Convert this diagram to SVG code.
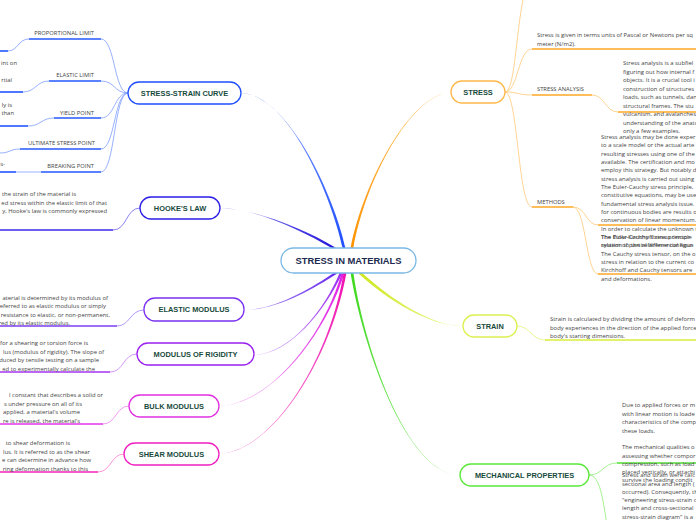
<svg xmlns="http://www.w3.org/2000/svg" width="696" height="520" viewBox="0 0 696 520">
<style>
.bg{fill:#ffffff}
.node rect{fill:#ffffff;stroke-width:1.3}
.nt{font-family:"Liberation Sans",Arial,sans-serif;font-weight:bold;font-size:7.4px;fill:#184a3c;text-anchor:middle}
.ct{font-family:"Liberation Sans",Arial,sans-serif;font-weight:bold;font-size:9.4px;fill:#1b2a4e;text-anchor:middle}
.d{font-family:"Open Sans","Liberation Sans",Arial,sans-serif;font-size:5.9px;fill:#444444}
.e{text-anchor:end}
.lb{font-family:"Open Sans","Liberation Sans",Arial,sans-serif;font-size:5.8px;fill:#444444;text-anchor:end}
.lbr{font-family:"Open Sans","Liberation Sans",Arial,sans-serif;font-size:5.8px;fill:#444444}
.thin{fill:none;stroke-width:0.8}
.ul{fill:none;stroke-width:1.6}
</style>
<defs>
  <linearGradient id="gSSC" gradientUnits="userSpaceOnUse" x1="344" y1="248" x2="241" y2="93"><stop offset="0" stop-color="#1f4fff"/><stop offset="1" stop-color="#86a2ff"/></linearGradient>
  <linearGradient id="gHK" gradientUnits="userSpaceOnUse" x1="334" y1="248" x2="220" y2="208"><stop offset="0" stop-color="#2418dc"/><stop offset="1" stop-color="#8a84f2"/></linearGradient>
  <linearGradient id="gST" gradientUnits="userSpaceOnUse" x1="352" y1="248" x2="451" y2="92"><stop offset="0" stop-color="#ff9200"/><stop offset="1" stop-color="#ffc66e"/></linearGradient>
  <linearGradient id="gEM" gradientUnits="userSpaceOnUse" x1="336" y1="273" x2="244" y2="310"><stop offset="0" stop-color="#6a2cf0"/><stop offset="1" stop-color="#ab8ef7"/></linearGradient>
  <linearGradient id="gMR" gradientUnits="userSpaceOnUse" x1="341" y1="273" x2="254" y2="355"><stop offset="0" stop-color="#9a30f0"/><stop offset="1" stop-color="#cd9ef7"/></linearGradient>
  <linearGradient id="gBM" gradientUnits="userSpaceOnUse" x1="343" y1="273" x2="219" y2="406"><stop offset="0" stop-color="#e020e6"/><stop offset="1" stop-color="#f294f4"/></linearGradient>
  <linearGradient id="gSM" gradientUnits="userSpaceOnUse" x1="345" y1="273" x2="219" y2="454"><stop offset="0" stop-color="#f010b0"/><stop offset="1" stop-color="#f890da"/></linearGradient>
  <linearGradient id="gSN" gradientUnits="userSpaceOnUse" x1="360" y1="273" x2="463" y2="326"><stop offset="0" stop-color="#cfe820"/><stop offset="1" stop-color="#e8f68c"/></linearGradient>
  <linearGradient id="gMP" gradientUnits="userSpaceOnUse" x1="352" y1="273" x2="460" y2="475"><stop offset="0" stop-color="#3cd81c"/><stop offset="1" stop-color="#94ef7e"/></linearGradient>
</defs>
<rect class="bg" x="0" y="0" width="696" height="520"/>

<g id="connectors">
  <path fill="url(#gSSC)" d="M342.6,248 C332.6,200 290,94.6 241,93 C290,95.4 335.4,200 345.4,248Z"/>
  <path fill="url(#gHK)" d="M332.6,248.5 C299,228.8 255,208.6 220,208 C255,209.4 301,227.2 335.4,247.5Z"/>
  <path fill="url(#gST)" d="M350.6,248 C364.3,180 410,94.6 451,92 C410,95.4 365.7,180 353.4,248Z"/>
  <path fill="url(#gEM)" d="M334.6,272.5 C309.3,289.5 275,309.6 244,310 C275,310.4 310.7,290.5 337.4,273.5Z"/>
  <path fill="url(#gMR)" d="M339.6,273 C324.3,310 290,353.6 254,355 C290,354.4 325.7,310 342.4,273Z"/>
  <path fill="url(#gBM)" d="M341.6,273 C324.3,335 270,404.6 219,406 C270,405.4 325.7,335 344.4,273Z"/>
  <path fill="url(#gSM)" d="M343.6,273 C329.3,360 272,451.6 219,454 C272,452.4 330.7,360 346.4,273Z"/>
  <path fill="url(#gSN)" d="M359,274 C389,301 430,326.4 463,326 C430,325.6 391,299 361,272Z"/>
  <path fill="url(#gMP)" d="M350.6,273 C361.3,340 405,475.4 460,475 C405,474.6 362.7,340 353.4,273Z"/>

  <g stroke="#7d9dff" class="thin">
    <path d="M128,93 C114,93 115,39 101,39"/>
    <path d="M128,93 C114,93 115,81 101,81"/>
    <path d="M128,93 C114,93 115,118 101,118"/>
    <path d="M128,93 C114,93 115,149 101,149"/>
    <path d="M128,93 C114,93 115,172 101,172"/>
    <path d="M29,39 C18,39 18,51 8,51"/>
    <path d="M49,81 C36,81 36,92 23,92"/>
    <path d="M54,118 C41,118 41,126 28,126"/>
    <path d="M20,149 C10,149 10,153 0,153"/>
    <path d="M41,172 L16,172"/>
  </g>
  <g stroke="#2457ff" class="ul">
    <path d="M29,39 H101"/>
    <path d="M49,81 H101"/>
    <path d="M54,118 H101"/>
    <path d="M20,149 H101"/>
    <path d="M41,172 H101"/>
    <path d="M0,51 H8"/>
    <path d="M0,92 H23"/>
    <path d="M0,126 H28"/>
    <path d="M0,172 H16"/>
  </g>

  <path class="thin" stroke="#6c62f0" d="M140,208 C126,208 127,230 113,230"/>
  <path class="ul" stroke="#3a2aee" d="M0,230 H113"/>
  <path class="thin" stroke="#a07cf5" d="M144,310 C130,310 130,326 117,326"/>
  <path class="ul" stroke="#7b3cf5" d="M0,326 H117"/>
  <path class="thin" stroke="#c47cf5" d="M137,354 C123,354 124,372 110,372"/>
  <path class="ul" stroke="#a535ef" d="M0,372 H110"/>
  <path class="thin" stroke="#ee80f0" d="M129,406 C116,406 116,424 103,424"/>
  <path class="ul" stroke="#e535ea" d="M0,424 H103"/>
  <path class="thin" stroke="#f77ad4" d="M124,454 C111,454 111,472 98,472"/>
  <path class="ul" stroke="#f520b8" d="M0,472 H98"/>

  <g stroke="#ffc878" class="thin">
    <path d="M505,92 C515,92 516,30 524,-5"/>
    <path d="M505,92 C518,92 518,49 532,49"/>
    <path d="M505,92 C518,92 518,95 532,95"/>
    <path d="M505,92 C518,92 518,207 532,207"/>
    <path d="M592,95 C605,95 605,112 618,112"/>
    <path d="M573,207 C586,207 586,225 598,225"/>
    <path d="M573,207 C586,207 586,274 598,274"/>
  </g>
  <g stroke="#ffa726" class="ul">
    <path d="M532,49 H696"/>
    <path d="M532,95 H592"/>
    <path d="M618,112 H696"/>
    <path d="M532,207 H573"/>
    <path d="M598,225 H696"/>
    <path d="M598,274 H696"/>
  </g>

  <path class="thin" stroke="#e4f27a" d="M517,326 C530,326 532,340 545,340"/>
  <path class="ul" stroke="#d8ef3a" d="M545,340 H696"/>

  <path class="thin" stroke="#8cec74" d="M589,475 C603,475 603,463 617,463"/>
  <path class="thin" stroke="#8cec74" d="M589,475 C600,475 603,500 607,525"/>
  <path class="ul" stroke="#4ee030" d="M617,463 H696"/>
</g>

<g id="center" class="node">
  <rect x="281" y="248" width="135" height="25" rx="12.5" stroke="#7ab8e6"/>
  <text class="ct" x="348.5" y="264">STRESS IN MATERIALS</text>
</g>

<g id="stress-strain-curve" class="node">
  <rect x="128" y="82" width="113" height="22" rx="11" stroke="#1f4fff"/>
  <text class="nt" x="184.5" y="95.6">STRESS-STRAIN CURVE</text>
</g>
<g id="hookes-law" class="node">
  <rect x="140" y="197" width="80" height="22" rx="11" stroke="#2a1ee6"/>
  <text class="nt" x="180" y="210.6">HOOKE'S LAW</text>
</g>
<g id="elastic-modulus" class="node">
  <rect x="144" y="298" width="100" height="23" rx="11" stroke="#7b30f0"/>
  <text class="nt" x="194" y="312.1">ELASTIC MODULUS</text>
</g>
<g id="modulus-of-rigidity" class="node">
  <rect x="137" y="343" width="117" height="22" rx="11" stroke="#9a20f0"/>
  <text class="nt" x="195.5" y="356.6">MODULUS OF RIGIDITY</text>
</g>
<g id="bulk-modulus" class="node">
  <rect x="129" y="395" width="90" height="22" rx="11" stroke="#e030e0"/>
  <text class="nt" x="174" y="408.6">BULK MODULUS</text>
</g>
<g id="shear-modulus" class="node">
  <rect x="124" y="443" width="95" height="22" rx="11" stroke="#f020c0"/>
  <text class="nt" x="171.5" y="456.6">SHEAR MODULUS</text>
</g>
<g id="stress" class="node">
  <rect x="451" y="81" width="54" height="22" rx="11" stroke="#ffb84a"/>
  <text class="nt" x="478" y="94.6">STRESS</text>
</g>
<g id="strain" class="node">
  <rect x="463" y="315" width="54" height="22" rx="11" stroke="#dcf050"/>
  <text class="nt" x="490" y="328.6">STRAIN</text>
</g>
<g id="mechanical-properties" class="node">
  <rect x="460" y="464" width="129" height="22" rx="11" stroke="#5ae83a"/>
  <text class="nt" x="524.5" y="477.6">MECHANICAL PROPERTIES</text>
</g>

<g id="stress-strain-children">
  <text class="lb" x="94" y="35">PROPORTIONAL LIMIT</text>
  <text class="lb" x="94" y="77">ELASTIC LIMIT</text>
  <text class="lb" x="94" y="115">YIELD POINT</text>
  <text class="lb" x="95" y="145">ULTIMATE STRESS POINT</text>
  <text class="lb" x="94" y="168">BREAKING POINT</text>
  <text class="d e" x="17" y="65">int on</text>
  <text class="d e" x="12" y="82">rtial</text>
  <text class="d e" x="12" y="107">ly is</text>
  <text class="d e" x="14" y="115">than</text>
  <text class="d e" x="5" y="166">s-</text>
</g>

<g id="hookes-law-text">
  <text class="d e" x="76" y="196">the strain of the material is</text>
  <text class="d e" x="107" y="204.5">ed stress within the elastic limit of that</text>
  <text class="d e" x="107" y="213">y, Hooke's law is commonly expressed</text>
</g>
<g id="elastic-modulus-text">
  <text class="d e" x="108" y="299.5">aterial is determined by its modulus of</text>
  <text class="d e" x="106" y="308">eferred to as elastic modulus or simply</text>
  <text class="d e" x="110" y="316.5">resistance to elastic, or non-permanent,</text>
  <text class="d e" x="70" y="325">red by its elastic modulus.</text>
</g>
<g id="modulus-of-rigidity-text">
  <text class="d e" x="88" y="345">for a shearing or torsion force is</text>
  <text class="d e" x="104" y="353.5">lus (modulus of rigidity). The slope of</text>
  <text class="d e" x="99" y="362">duced by tensile testing on a sample</text>
  <text class="d e" x="95" y="370.5">ed to experimentally calculate the</text>
</g>
<g id="bulk-modulus-text">
  <text class="d e" x="103" y="397">l constant that describes a solid or</text>
  <text class="d e" x="82" y="405.5">s under pressure on all of its</text>
  <text class="d e" x="80" y="414">applied, a material's volume</text>
  <text class="d e" x="80" y="422.5">re is released, the material's</text>
</g>
<g id="shear-modulus-text">
  <text class="d e" x="70" y="445">to shear deformation is</text>
  <text class="d e" x="90" y="453.5">lus. It is referred to as the shear</text>
  <text class="d e" x="91" y="462">e can determine in advance how</text>
  <text class="d e" x="88" y="470.5">ring deformation thanks to this</text>
</g>

<g id="stress-children">
  <text class="d" x="537" y="37">Stress is given in terms units of Pascal or Newtons per sq</text>
  <text class="d" x="537" y="45.5">meter (N/m2).</text>
  <text class="lbr" x="537" y="91">STRESS ANALYSIS</text>
  <text class="lbr" x="537" y="203.5">METHODS</text>
  <g class="d">
    <text x="623" y="65">Stress analysis is a subfiel</text>
    <text x="623" y="73.5">figuring out how internal f</text>
    <text x="623" y="82">objects. It is a crucial tool i</text>
    <text x="623" y="90.5">construction of structures</text>
    <text x="623" y="99">loads, such as tunnels, dan</text>
    <text x="623" y="107.5">structural frames. The stu</text>
    <text x="623" y="116">vulcanism, and avalanches</text>
    <text x="623" y="124.5">understanding of the anato</text>
    <text x="623" y="133">only a few examples.</text>
  </g>
  <g class="d">
    <text x="601" y="139">Stress analysis may be done exper</text>
    <text x="601" y="147.3">to a scale model or the actual arte</text>
    <text x="601" y="155.6">resulting stresses using one of the</text>
    <text x="601" y="164">available. The certification and mo</text>
    <text x="601" y="172.3">employ this strategy. But notably d</text>
    <text x="601" y="180.6">stress analysis is carried out using</text>
    <text x="601" y="189">The Euler-Cauchy stress principle,</text>
    <text x="601" y="197.3">constitutive equations, may be use</text>
    <text x="601" y="205.6">fundamental stress analysis issue.</text>
    <text x="601" y="214">for continuous bodies are results o</text>
    <text x="601" y="222.3">conservation of linear momentum.</text>
    <text x="601" y="230.6">In order to calculate the unknown t</text>
    <text x="601" y="239">The Euler-Cauchy stress principle</text>
    <text x="601" y="247.3">system of partial differential equa</text>
  </g>
  <g class="d">
    <text x="601" y="239">The Piola-Kirchhoff stress tensor</text>
    <text x="601" y="247.3">relation to the reference configur</text>
    <text x="601" y="255.6">The Cauchy stress tensor, on the o</text>
    <text x="601" y="264">stress in relation to the current co</text>
    <text x="601" y="272.3">Kirchhoff and Cauchy tensors are</text>
    <text x="601" y="280.6">and deformations.</text>
  </g>
</g>

<g id="strain-text" class="d">
  <text x="550" y="321">Strain is calculated by dividing the amount of deform</text>
  <text x="550" y="329.5">body experiences in the direction of the applied force</text>
  <text x="550" y="338">body's starting dimensions.</text>
</g>

<g id="mechanical-properties-text" class="d">
  <text x="622" y="407">Due to applied forces or m</text>
  <text x="622" y="415.7">with linear motion is loade</text>
  <text x="622" y="424.3">characteristics of the comp</text>
  <text x="622" y="432.7">these loads.</text>
  <text x="622" y="449.3">The mechanical qualities o</text>
  <text x="622" y="457.7">assessing whether compor</text>
  <text x="622" y="466">compression, such as load</text>
  <text x="622" y="473.7">placed vertically, or attachi</text>
  <text x="622" y="482">survive the loading condit</text>
  <text x="622" y="477">Stress and strain were calc</text>
  <text x="622" y="485.5">sectional area and length (</text>
  <text x="622" y="493.7">occurred). Consequently, th</text>
  <text x="622" y="502">"engineering stress-strain c</text>
  <text x="622" y="510.3">length and cross-sectional</text>
  <text x="622" y="518.7">stress-strain diagram" is a</text>
</g>
</svg>
